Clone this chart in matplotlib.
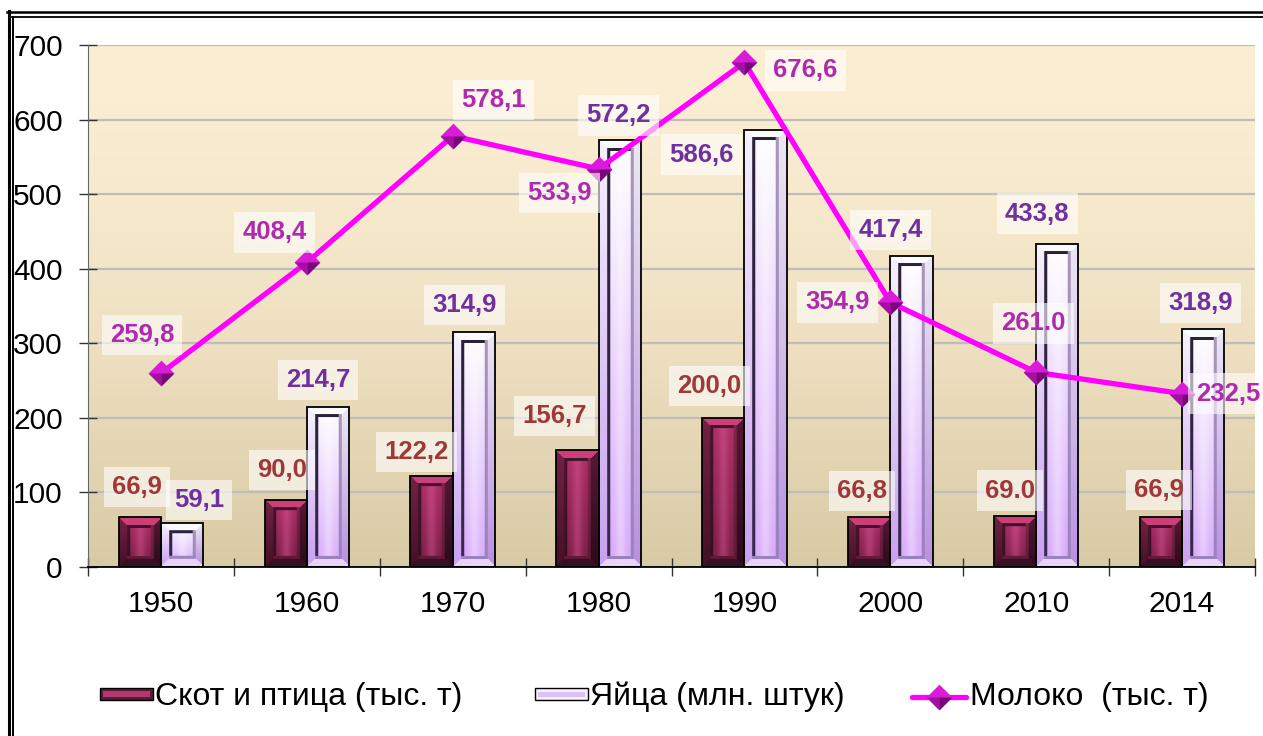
import numpy as np
import matplotlib.pyplot as plt
from matplotlib.patches import Rectangle
from matplotlib.lines import Line2D

plt.rcParams['font.family'] = ['Liberation Sans', 'DejaVu Sans']

# data
years = ['1950', '1960', '1970', '1980', '1990', '2000', '2010', '2014']
livestock = [66.9, 90.0, 122.2, 156.7, 200.0, 66.8, 69.0, 66.9]
eggs = [59.1, 214.7, 314.9, 572.2, 586.6, 417.4, 433.8, 318.9]
milk = [259.8, 408.4, 578.1, 533.9, 676.6, 354.9, 261.0, 232.5]

livestock_text = ['66,9', '90,0', '122,2', '156,7', '200,0', '66,8', '69.0', '66,9']
eggs_text = ['59,1', '214,7', '314,9', '572,2', '586,6', '417,4', '433,8', '318,9']
milk_text = ['259,8', '408,4', '578,1', '533,9', '676,6', '354,9', '261.0', '232,5']

names = ['Скот и птица (тыс. т)', 'Яйца (млн. штук)', 'Молоко  (тыс. т)']

# label offsets in pixels from the anchor point (layout only)
livestock_off = [(-3, 30), (-4, 30), (-15, 24), (-23, 34), (-14, 32), (-7, 26), (-5, 25), (-2, 27)]
eggs_off = [(17, 23), (-10, 27), (-9, 27), (-1, 25), (-64, -25), (-21, 26), (-20, 30), (-3, 26)]
milk_off = [(-19, 38), (-32, 30), (41, 36), (-39, -24), (61, -8), (-53, 0), (-3, 49), (46, 0)]

W, H = 1263, 736
fig = plt.figure(figsize=(W / 100, H / 100), dpi=100)
ax_l, ax_r, ax_t, ax_b = 88, 1255, 45, 567
ax = fig.add_axes([ax_l / W, 1 - ax_b / H, (ax_r - ax_l) / W, (ax_b - ax_t) / H])

YMAX = 700
px_x = (ax_r - ax_l) / len(years)
px_y = (ax_b - ax_t) / YMAX


def hex2rgb(c):
    c = c.lstrip('#')
    return np.array([int(c[i:i + 2], 16) / 255 for i in (0, 2, 4)])


def bevel_image(w, h, pal, b=8, lw=3):
    w = max(int(round(w)), 3)
    h = max(int(round(h)), 3)
    yy, xx = np.mgrid[0:h, 0:w]
    t = (yy / max(h - 1, 1))[..., None]

    def grad(key):
        c0, c1 = pal[key]
        return hex2rgb(c0) * (1 - t) + hex2rgb(c1) * t

    img = grad('face')
    # soft highlight down the middle of the face
    u = xx / max(w - 1, 1)
    k = (pal['shine'][1] * np.exp(-((u - 0.5) / 0.12) ** 2))[..., None]
    img = img * (1 - k) + hex2rgb(pal['shine'][0]) * k
    dl, dr, dt, db = xx, w - 1 - xx, yy, h - 1 - yy
    d = np.minimum(np.minimum(dl, dr), np.minimum(dt, db))
    bb = min(b, w // 3, h // 3)
    for key, dist in [('left', dl), ('right', dr), ('top', dt), ('bottom', db)]:
        m = (d < bb) & (dist == d)
        img[m] = grad(key)[m]
    inner = d >= bb
    il = inner & (((dl >= bb) & (dl < bb + lw)) | ((dt >= bb) & (dt < bb + lw))) \
        & (dr >= bb + lw) & (db >= bb + lw)
    img[il] = grad('line_dark')[il]
    ir = inner & (((dr >= bb) & (dr < bb + lw)) | ((db >= bb) & (db < bb + lw)))
    img[ir] = grad('line_light')[ir]
    return img


pal_live = {
    'face': ('#B03068', '#761C44'),
    'shine': ('#D85A94', 0.45),
    'left': ('#742244', '#441026'),
    'right': ('#561836', '#2C0A1A'),
    'top': ('#CC4078', '#CC4078'),
    'bottom': ('#361022', '#361022'),
    'line_dark': ('#461430', '#361022'),
    'line_light': ('#84264E', '#5A1834'),
}
pal_egg = {
    'face': ('#FFFFFF', '#D6A8FA'),
    'shine': ('#FFFFFF', 0.35),
    'left': ('#F6F2FC', '#C8A0F0'),
    'right': ('#ECE8F4', '#B890E0'),
    'top': ('#FAFAFC', '#FAFAFC'),
    'bottom': ('#EAD2FA', '#EAD2FA'),
    'line_dark': ('#2A2238', '#3A2850'),
    'line_light': ('#A898B8', '#9A80C0'),
}

# gradient background
g = np.linspace(0, 1, 256) ** 1.6
top_c, bot_c = hex2rgb('#FCEED3'), hex2rgb('#D8CAA4')
bg = (top_c[None, :] * (1 - g[:, None]) + bot_c[None, :] * g[:, None])[:, None, :]
ax.imshow(bg, extent=[0, 1, 0, 1], transform=ax.transAxes, aspect='auto', zorder=0)

x = np.arange(len(years))
bw = 0.29
bars1 = ax.bar(x - bw / 2, livestock, bw, facecolor='none', edgecolor='black', lw=1.3, zorder=2.2)
bars2 = ax.bar(x + bw / 2, eggs, bw, facecolor='none', edgecolor='black', lw=1.3, zorder=2.2)

for bars, pal in [(bars1, pal_live), (bars2, pal_egg)]:
    for r in bars:
        x0, w, h = r.get_x(), r.get_width(), r.get_height()
        img = bevel_image(w * px_x, h * px_y, pal)
        im = ax.imshow(img, extent=[x0, x0 + w, 0, h], aspect='auto', zorder=2.0,
                       interpolation='bilinear')
        im.set_clip_path(r)

# milk line with shaded diamond markers
diamond = [(0, 1), (1, 0), (0, -1), (-1, 0), (0, 1)]
low_left = [(-1, 0), (0, 0), (0, -1), (-1, 0)]
low_right = [(0, 0), (1, 0), (0, -1), (0, 0)]
ms = 18.5
ax.plot(x, milk, color='#FF00FF', lw=3.8, zorder=3, solid_capstyle='round')
ax.plot(x, milk, ls='none', marker=diamond, ms=ms, mfc='#D81CD8', mec='none', zorder=3.1)
ax.plot(x, milk, ls='none', marker=low_left, ms=ms, mfc='#A410A4', mec='none', zorder=3.2)
ax.plot(x, milk, ls='none', marker=low_right, ms=ms, mfc='#780878', mec='none', zorder=3.2)

# data labels
lab_font = dict(fontsize=18.5, fontweight='bold', ha='center', va='center', zorder=5,
                annotation_clip=False)
box = dict(boxstyle='square,pad=0.32', fc='white', ec='none', alpha=0.6)
for i in range(len(years)):
    ax.annotate(livestock_text[i], xy=(x[i] - bw / 2, livestock[i]), xytext=livestock_off[i],
                textcoords='offset pixels', color='#A03838', bbox=box, **lab_font)
    ax.annotate(eggs_text[i], xy=(x[i] + bw / 2, eggs[i]), xytext=eggs_off[i],
                textcoords='offset pixels', color='#7030A0', bbox=box, **lab_font)
    ax.annotate(milk_text[i], xy=(x[i], milk[i]), xytext=milk_off[i],
                textcoords='offset pixels', color='#B02AB0', bbox=box, **lab_font)

# axes styling
ax.set_xlim(-0.5, len(years) - 0.5)
ax.set_ylim(0, YMAX)
ax.set_yticks(np.arange(0, 701, 100))
ax.yaxis.grid(True, color='#BDBDBD', lw=1.6, zorder=0.5)
ax.set_axisbelow(True)
ax.set_xticks(np.arange(-0.5, len(years), 1))
ax.set_xticklabels([])
ax.set_xticks(x, minor=True)
ax.set_xticklabels(years, minor=True)
ax.tick_params(axis='x', which='major', direction='inout', length=13, width=1, color='#333333')
ax.tick_params(axis='x', which='minor', length=0, pad=16.5, labelsize=21.5)
ax.tick_params(axis='y', direction='inout', length=12.5, width=1, color='#333333', pad=12,
               labelsize=21.5)
for s in ['top', 'right']:
    ax.spines[s].set_visible(False)
ax.spines['left'].set_color('#666666')
ax.spines['bottom'].set_color('black')
ax.spines['bottom'].set_linewidth(1.3)


def fx(px):
    return px / W


def fy(py):
    return 1 - py / H


# double frame around the figure
fig.add_artist(Line2D([fx(8.5), fx(8.5)], [fy(11), fy(H)], color='black', lw=2.2))
fig.add_artist(Line2D([fx(13), fx(13)], [fy(16.5), fy(H)], color='black', lw=1.4))
fig.add_artist(Line2D([fx(7.4), fx(W)], [fy(12), fy(12)], color='black', lw=1.8))
fig.add_artist(Line2D([fx(12.3), fx(W)], [fy(17), fy(17)], color='black', lw=1.3))

# legend drawn by hand
leg_y = 697


def rect(x0, y0, x1, y1, fc, ec='none', lw=0):
    fig.add_artist(Rectangle((fx(x0), fy(y1)), fx(x1) - fx(x0), fy(y0) - fy(y1),
                             transform=fig.transFigure, fc=fc, ec=ec, lw=lw))


rect(100, 688, 153, 700, '#5A1A38', 'black', 1)
rect(103, 691, 150, 697, '#B03A70')
rect(535, 688, 588, 700, '#F4F0FA', 'black', 1)
rect(538, 692, 585, 697, '#DCC0F8')
fig.add_artist(Line2D([fx(912), fx(966)], [fy(leg_y), fy(leg_y)], color='#FF00FF', lw=3.8,
                      solid_capstyle='round'))
fig.add_artist(Line2D([fx(939)], [fy(leg_y)], marker=diamond, ms=ms, mfc='#D81CD8', mec='none'))
fig.add_artist(Line2D([fx(939)], [fy(leg_y)], marker=low_left, ms=ms, mfc='#A410A4', mec='none'))
fig.add_artist(Line2D([fx(939)], [fy(leg_y)], marker=low_right, ms=ms, mfc='#780878', mec='none'))
for xt, name in zip([155, 590, 970], names):
    fig.text(fx(xt), fy(leg_y), name, fontsize=23, ha='left', va='center')

fig.savefig('out.png', dpi=100)
